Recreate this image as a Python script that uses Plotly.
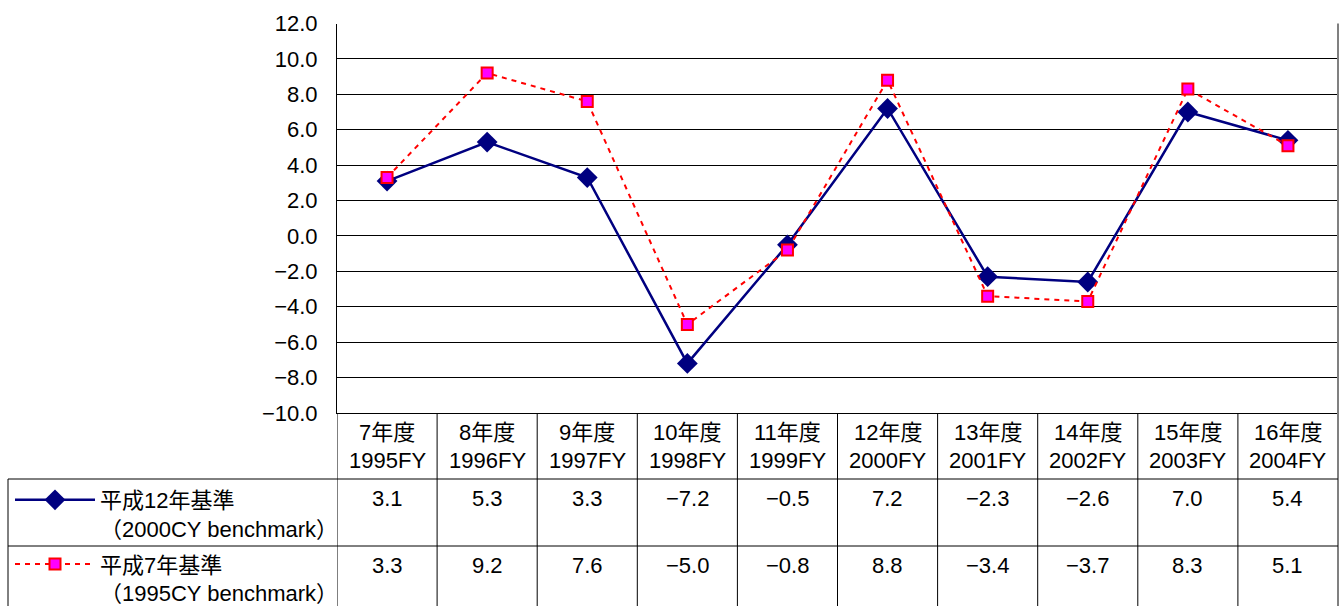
import plotly.graph_objects as go

# ---- data ----
year_jp = ["7年度", "8年度", "9年度", "10年度", "11年度", "12年度", "13年度", "14年度", "15年度", "16年度"]
year_fy = ["1995FY", "1996FY", "1997FY", "1998FY", "1999FY", "2000FY", "2001FY", "2002FY", "2003FY", "2004FY"]
series_2000 = [3.1, 5.3, 3.3, -7.2, -0.5, 7.2, -2.3, -2.6, 7.0, 5.4]
series_1995 = [3.3, 9.2, 7.6, -5.0, -0.8, 8.8, -3.4, -3.7, 8.3, 5.1]
name_2000 = "平成12年基準<br>（2000CY benchmark）"
name_1995 = "平成7年基準<br>（1995CY benchmark）"
y_ticks = [12, 10, 8, 6, 4, 2, 0, -2, -4, -6, -8, -10]

W, H = 1344, 606
FONT = "Liberation Sans, Arial, Noto Sans CJK JP, sans-serif"
FS = 22

def px_x(p):
    return p / W

def px_y(p):
    return (H - p) / H

x_idx = list(range(len(year_jp)))

def fmt(v):
    return f"{v:.1f}".replace("-", "−")

fig = go.Figure()
fig.add_trace(go.Scatter(
    x=x_idx, y=series_2000, name=name_2000, mode="lines+markers",
    line=dict(color="#000080", width=2.5),
    marker=dict(symbol="diamond", size=16, color="#000080"),
    legendgroup="a",
))
fig.add_trace(go.Scatter(
    x=x_idx, y=series_1995, name=name_1995, mode="lines+markers",
    line=dict(color="#FF0000", width=2, dash="5px,5px"),
    marker=dict(symbol="square", size=11, color="#FF00FF", line=dict(color="#FF0000", width=2)),
    legendgroup="b",
))

# plot area in pixels
X0, X1 = 337, 1338
Y_TOP, Y_BOT = 23.5, 413
ROW1, ROW2 = 479, 546
LEFT = 8

fig.update_layout(
    width=W, height=H,
    margin=dict(l=0, r=0, t=0, b=0, autoexpand=False),
    paper_bgcolor="white", plot_bgcolor="white",
    font=dict(family=FONT, size=FS, color="black"),
    showlegend=True,
    legend=dict(
        x=px_x(10), y=px_y(479), xanchor="left", yanchor="top",
        bgcolor="rgba(0,0,0,0)", font=dict(size=FS, family=FONT),
        tracegroupgap=4, valign="top", itemwidth=80,
    ),
    xaxis=dict(
        domain=[px_x(X0), px_x(X1)], range=[-0.5, len(year_jp) - 0.5],
        showgrid=False, zeroline=False, showticklabels=False, automargin=False,
        showline=True, linecolor="black", linewidth=1, fixedrange=True,
    ),
    yaxis=dict(
        domain=[px_y(Y_BOT), px_y(Y_TOP)], range=[-10, 12], automargin=False,
        tickvals=y_ticks, ticktext=[fmt(v) for v in y_ticks],
        showgrid=True, gridcolor="black", gridwidth=1,
        zeroline=True, zerolinecolor="black", zerolinewidth=1,
        showline=True, linecolor="black", linewidth=1,
        ticks="inside", ticklen=7, tickcolor="black",
        ticklabelstandoff=14, tickfont=dict(size=FS, family=FONT),
        fixedrange=True,
    ),
)

shapes = []
line_style = dict(color="black", width=1)
# vertical column boundaries of the table
for k in range(len(year_jp) + 1):
    shapes.append(dict(type="line", xref="x", yref="paper",
                       x0=k - 0.5, x1=k - 0.5, y0=px_y(Y_BOT), y1=0,
                       line=line_style))
# right border of the chart
shapes.append(dict(type="line", xref="paper", yref="paper",
                   x0=px_x(X1), x1=px_x(X1), y0=px_y(Y_TOP), y1=0,
                   line=dict(color="#808080", width=2)))
# horizontal table rows
for yy in (ROW1, ROW2):
    shapes.append(dict(type="line", xref="paper", yref="paper",
                       x0=px_x(LEFT), x1=px_x(X1), y0=px_y(yy), y1=px_y(yy),
                       line=line_style))
# left border of legend cell
shapes.append(dict(type="line", xref="paper", yref="paper",
                   x0=px_x(LEFT), x1=px_x(LEFT), y0=px_y(ROW1), y1=0,
                   line=line_style))
fig.update_layout(shapes=shapes)

ann = []
common = dict(xref="x", yref="paper", showarrow=False, yanchor="middle",
              xanchor="center", font=dict(size=FS, family=FONT))
for k in x_idx:
    ann.append(dict(x=k, y=px_y(432), text=year_jp[k], **common))
    ann.append(dict(x=k, y=px_y(460), text=year_fy[k], **common))
    ann.append(dict(x=k, y=px_y(498), text=fmt(series_2000[k]), **common))
    ann.append(dict(x=k, y=px_y(565), text=fmt(series_1995[k]), **common))
fig.update_layout(annotations=ann)

fig.write_html(
    "out.html",
    config={"displayModeBar": False},
    post_script="document.body.style.margin='0';document.body.style.overflow='hidden';",
)
